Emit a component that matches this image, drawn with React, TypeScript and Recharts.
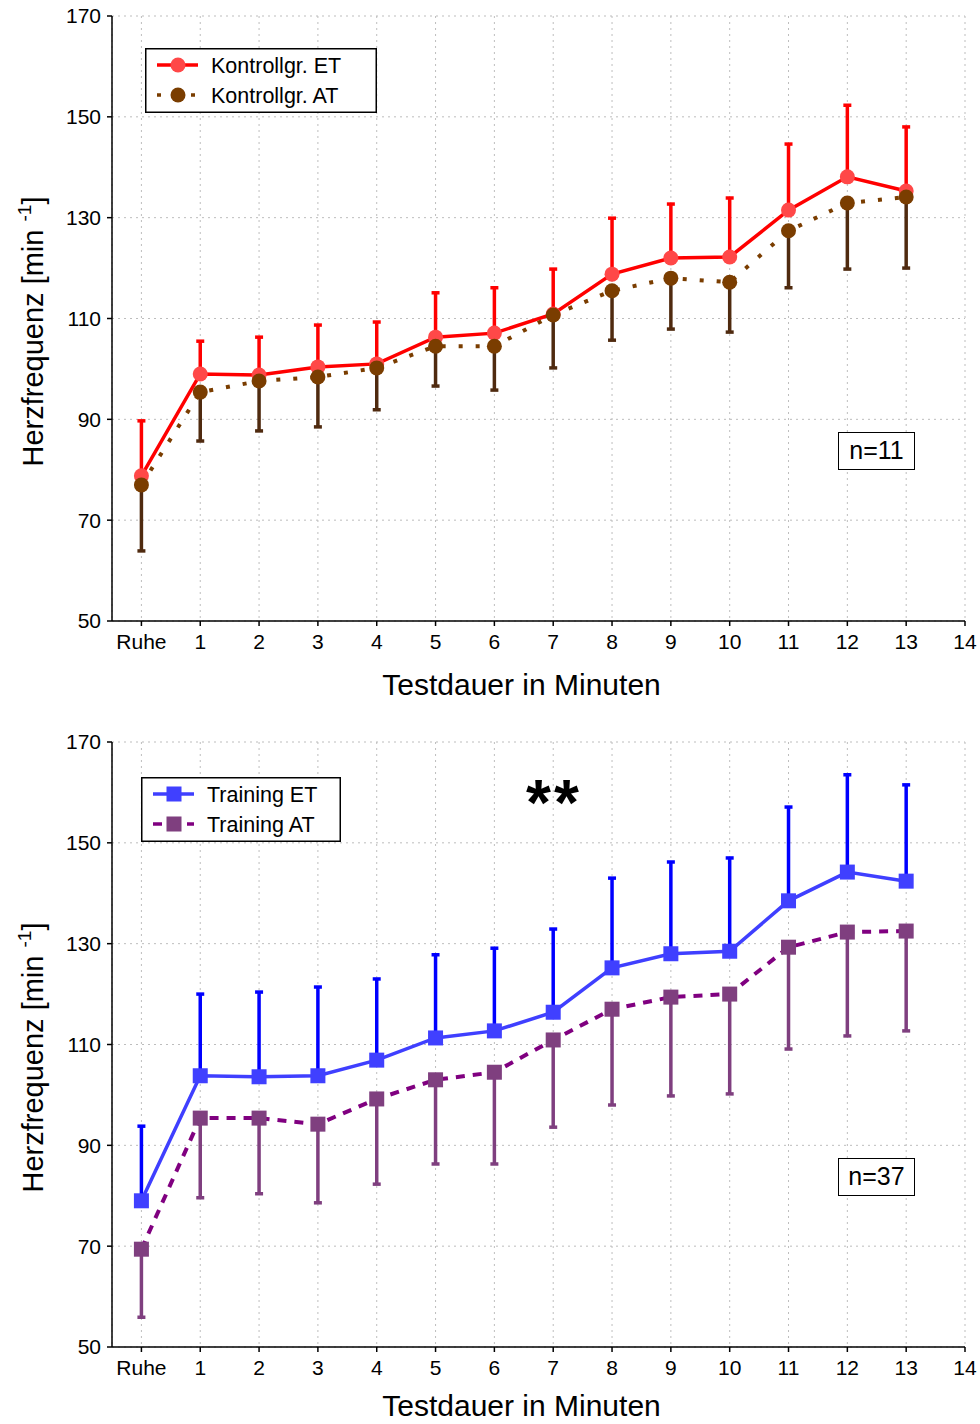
import React from 'react';
import { LineChart, Line, XAxis, YAxis, CartesianGrid, ErrorBar, Legend, Label } from 'recharts';

const FONT = 'Arial, "Liberation Sans", Helvetica, sans-serif';

const minutes = [0, 1, 2, 3, 4, 5, 6, 7, 8, 9, 10, 11, 12, 13];
const xTicks = [0, 1, 2, 3, 4, 5, 6, 7, 8, 9, 10, 11, 12, 13, 14];
const yTicks = [50, 70, 90, 110, 130, 150, 170];

const kontrollET = [78.8, 99.0, 98.8, 100.4, 101.0, 106.3, 107.1, 110.9, 118.8, 122.0, 122.2, 131.5, 138.1, 135.3];
const kontrollETsd = [10.9, 6.5, 7.5, 8.3, 8.3, 8.8, 9.0, 8.9, 11.1, 10.7, 11.7, 13.1, 14.2, 12.7];
const kontrollAT = [77.0, 95.4, 97.6, 98.4, 100.2, 104.5, 104.5, 110.7, 115.5, 118.0, 117.2, 127.4, 132.9, 134.1];
const kontrollATsd = [13.1, 9.7, 9.9, 9.9, 8.3, 7.9, 8.7, 10.5, 9.8, 10.1, 9.9, 11.3, 13.1, 14.1];

const trainingET = [79.0, 103.8, 103.6, 103.8, 106.9, 111.3, 112.7, 116.4, 125.2, 128.0, 128.5, 138.5, 144.2, 142.4];
const trainingETsd = [14.8, 16.2, 16.8, 17.6, 16.1, 16.5, 16.4, 16.5, 17.8, 18.2, 18.5, 18.6, 19.3, 19.1];
const trainingAT = [69.4, 95.4, 95.4, 94.2, 99.2, 103.0, 104.5, 110.9, 117.0, 119.4, 120.0, 129.3, 132.3, 132.5];
const trainingATsd = [13.5, 15.8, 15.0, 15.6, 16.9, 16.7, 18.2, 17.3, 19.0, 19.6, 19.8, 20.2, 20.6, 19.8];

type PanelCfg = {
  et: number[];
  etSd: number[];
  at: number[];
  atSd: number[];
  etName: string;
  atName: string;
  etLine: string;
  etMarker: string;
  etBar: string;
  atLine: string;
  atMarker: string;
  atBar: string;
  atDash: string;
  shape: 'circle' | 'square';
  legendLeft: number;
  legendTop: number;
  legendWidth: number;
  nText: string;
  stars: boolean;
  xLabelDy: number;
};

const buildData = (et: number[], etSd: number[], at: number[], atSd: number[]) =>
  minutes.map((m, i) => ({
    x: m,
    et: et[i],
    etErr: [0, etSd[i]],
    at: at[i],
    atErr: [atSd[i], 0],
  }));

const makeDot = (shape: 'circle' | 'square', fill: string) => (props: any) => {
  const { cx, cy, index } = props;
  if (cx == null || cy == null) return <g key={`d${index}`} />;
  if (shape === 'circle') return <circle key={`d${index}`} cx={cx} cy={cy} r={7.5} fill={fill} />;
  return <rect key={`d${index}`} x={cx - 7.5} y={cy - 7.5} width={15} height={15} fill={fill} />;
};

const YLabel = (props: any) => {
  const vb = props.viewBox || { x: 0, y: 0, width: 0, height: 0 };
  const x = 43;
  const y = vb.y + vb.height / 2 + 13;
  return (
    <text
      x={x}
      y={y}
      transform={`rotate(-90, ${x}, ${y})`}
      textAnchor="middle"
      fontSize={29}
      fontFamily={FONT}
      fill="#000"
    >
      Herzfrequenz [min{' '}
      <tspan dy={-12} fontSize={19}>-1</tspan>
      <tspan dy={12}>]</tspan>
    </text>
  );
};

const makeXLabel = (dy: number) => (props: any) => {
  const vb = props.viewBox || { x: 0, y: 0, width: 0, height: 0 };
  return (
    <text
      x={vb.x + vb.width / 2 - 17}
      y={vb.y + 74 + dy}
      textAnchor="middle"
      fontSize={30}
      fontFamily={FONT}
      fill="#000"
    >
      Testdauer in Minuten
    </text>
  );
};

const Panel = ({ cfg, top }: { cfg: PanelCfg; top: number }) => {
  const data = buildData(cfg.et, cfg.etSd, cfg.at, cfg.atSd);
  const legendContent = () => (
    <svg width={cfg.legendWidth} height={65} style={{ display: 'block' }}>
      <rect x={0.75} y={0.75} width={cfg.legendWidth - 1.5} height={63.5} fill="#fff" stroke="#000" strokeWidth={1.5} />
      {[
        { name: cfg.etName, line: cfg.etLine, marker: cfg.etMarker, dash: undefined as string | undefined, y: 17 },
        { name: cfg.atName, line: cfg.atLine, marker: cfg.atMarker, dash: cfg.atDash, y: 47 },
      ].map((r) => (
        <g key={r.name}>
          <line x1={12} x2={53} y1={r.y} y2={r.y} stroke={r.line} strokeWidth={3.5} strokeDasharray={r.dash} />
          {cfg.shape === 'circle' ? (
            <circle cx={33} cy={r.y} r={7.5} fill={r.marker} />
          ) : (
            <rect x={25.5} y={r.y - 7.5} width={15} height={15} fill={r.marker} />
          )}
          <text x={66} y={r.y + 7.5} fontSize={21.5} fontFamily={FONT} fill="#000">
            {r.name}
          </text>
        </g>
      ))}
    </svg>
  );

  return (
    <div style={{ position: 'absolute', left: 0, top, width: 980, height: 712 }}>
      <LineChart width={980} height={712} data={data} margin={{ top: 16, right: 15, bottom: 0, left: 0 }}>
        <CartesianGrid stroke="#bdbdbd" strokeDasharray="2 4" strokeWidth={1} />
        <XAxis
          dataKey="x"
          type="number"
          domain={[-0.5, 14]}
          ticks={xTicks}
          allowDataOverflow
          height={91}
          tickSize={5}
          tickMargin={8}
          tickFormatter={(v: number) => (v === 0 ? 'Ruhe' : String(v))}
          tick={{ fontSize: 21, fontFamily: FONT, fill: '#000' }}
          axisLine={{ stroke: '#000', strokeWidth: 1.5 }}
          tickLine={{ stroke: '#000', strokeWidth: 1.5 }}
        >
          <Label content={makeXLabel(cfg.xLabelDy)} />
        </XAxis>
        <YAxis
          type="number"
          domain={[50, 170]}
          ticks={yTicks}
          width={112}
          tickSize={5}
          tickMargin={6}
          tick={{ fontSize: 21, fontFamily: FONT, fill: '#000' }}
          axisLine={{ stroke: '#000', strokeWidth: 1.5 }}
          tickLine={{ stroke: '#000', strokeWidth: 1.5 }}
        >
          <Label content={YLabel} />
        </YAxis>
        <Legend
          layout="vertical"
          align="center"
          verticalAlign="middle"
          content={legendContent}
          wrapperStyle={{ position: 'absolute', left: cfg.legendLeft, top: cfg.legendTop, width: cfg.legendWidth, height: 65, margin: 0 }}
        />
        <Line
          type="linear"
          dataKey="et"
          name={cfg.etName}
          stroke={cfg.etLine}
          strokeWidth={3.5}
          dot={makeDot(cfg.shape, cfg.etMarker)}
          activeDot={false}
          isAnimationActive={false}
        />
        <Line
          type="linear"
          dataKey="at"
          name={cfg.atName}
          stroke={cfg.atLine}
          strokeWidth={4}
          strokeDasharray={cfg.atDash}
          dot={makeDot(cfg.shape, cfg.atMarker)}
          activeDot={false}
          isAnimationActive={false}
        />
        <Line
          type="linear"
          dataKey="et"
          stroke="none"
          dot={false}
          activeDot={false}
          legendType="none"
          isAnimationActive={false}
        >
          <ErrorBar dataKey="etErr" direction="y" width={4} stroke={cfg.etBar} strokeWidth={3.5} isAnimationActive={false} />
        </Line>
        <Line
          type="linear"
          dataKey="at"
          stroke="none"
          dot={false}
          activeDot={false}
          legendType="none"
          isAnimationActive={false}
        >
          <ErrorBar dataKey="atErr" direction="y" width={4} stroke={cfg.atBar} strokeWidth={3.5} isAnimationActive={false} />
        </Line>
      </LineChart>
      <div
        style={{
          position: 'absolute',
          left: 838,
          top: 432,
          width: 77,
          height: 38,
          boxSizing: 'border-box',
          border: '1.5px solid #000',
          fontFamily: FONT,
          fontSize: 25,
          lineHeight: '35px',
          textAlign: 'center',
          background: '#fff',
        }}
      >
        {cfg.nText}
      </div>
      {cfg.stars ? (
        <div
          style={{
            position: 'absolute',
            left: 494,
            top: 45,
            width: 120,
            textAlign: 'center',
            fontFamily: FONT,
            fontWeight: 'bold',
            fontSize: 64,
            lineHeight: '64px',
            letterSpacing: 3,
          }}
        >
          **
        </div>
      ) : null}
    </div>
  );
};

const topCfg: PanelCfg = {
  et: kontrollET,
  etSd: kontrollETsd,
  at: kontrollAT,
  atSd: kontrollATsd,
  etName: 'Kontrollgr. ET',
  atName: 'Kontrollgr. AT',
  etLine: '#ff0000',
  etMarker: '#ff4848',
  etBar: '#ff0000',
  atLine: '#7a3d00',
  atMarker: '#7a3d00',
  atBar: '#4f2a0f',
  atDash: '4 13',
  shape: 'circle',
  legendLeft: 145,
  legendTop: 48,
  legendWidth: 232,
  nText: 'n=11',
  stars: false,
  xLabelDy: 0,
};

const bottomCfg: PanelCfg = {
  et: trainingET,
  etSd: trainingETsd,
  at: trainingAT,
  atSd: trainingATsd,
  etName: 'Training ET',
  atName: 'Training AT',
  etLine: '#3f3fff',
  etMarker: '#4040ff',
  etBar: '#0000ff',
  atLine: '#800080',
  atMarker: '#7f3f7f',
  atBar: '#7f3f7f',
  atDash: '9 8',
  shape: 'square',
  legendLeft: 141,
  legendTop: 51,
  legendWidth: 200,
  nText: 'n=37',
  stars: true,
  xLabelDy: -5,
};

export default function App() {
  return (
    <div
      style={{
        position: 'absolute',
        left: 0,
        top: 0,
        width: 980,
        height: 1424,
        overflow: 'hidden',
        background: '#fff',
      }}
    >
      <Panel cfg={topCfg} top={0} />
      <Panel cfg={bottomCfg} top={726} />
    </div>
  );
}
